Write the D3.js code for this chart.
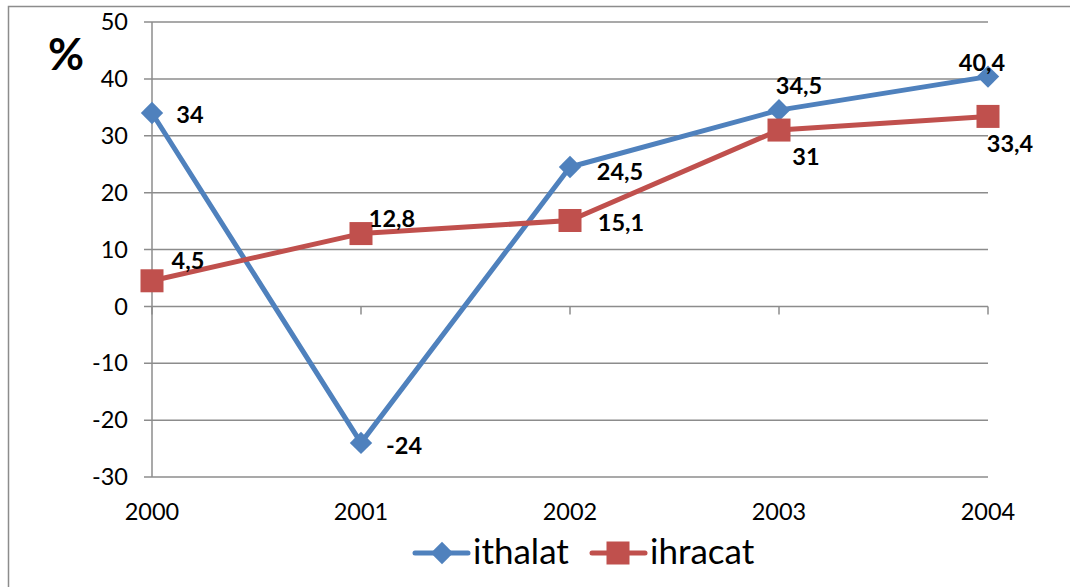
<!DOCTYPE html>
<html>
<head>
<meta charset="utf-8">
<script src="https://cdn.jsdelivr.net/npm/d3@7"></script>
<style>
  body { margin: 0; background: #fff; }
  text { font-family: Lato, "Open Sans", sans-serif; }
</style>
</head>
<body>
<div id="chart"></div>
<script>
// data
const years = ["2000", "2001", "2002", "2003", "2004"];
const ithalat = [34, -24, 24.5, 34.5, 40.4];
const ihracat = [4.5, 12.8, 15.1, 31, 33.4];
const yTicks = [-30, -20, -10, 0, 10, 20, 30, 40, 50];
const seriesNames = ["ithalat", "ihracat"];

// label placement (dx, dy from point to label centre)
const ithalatLabelPos = [[38, 2], [43, 3], [50, 5], [20, -24], [-6, -14]];
const ihracatLabelPos = [[36, -20], [31, -15], [51, 2], [27, 27], [22, 27]];

const width = 1070, height = 587;
const margin = {top: 22, right: 82, bottom: 110, left: 152};

const svg = d3.select("#chart").append("svg")
    .attr("width", width)
    .attr("height", height);

// outer frame
svg.append("rect")
    .attr("x", 8.5).attr("y", 6.5)
    .attr("width", 1100).attr("height", 700)
    .attr("fill", "none")
    .attr("stroke", "#8c8c8c")
    .attr("stroke-width", 1.5);

const x = d3.scalePoint()
    .domain(years)
    .range([margin.left, width - margin.right]);

const y = d3.scaleLinear()
    .domain([-30, 50])
    .range([477, margin.top]);

// gridlines
svg.append("g")
    .selectAll("line")
    .data(yTicks)
    .join("line")
    .attr("x1", margin.left - 8)
    .attr("x2", width - margin.right)
    .attr("y1", d => y(d))
    .attr("y2", d => y(d))
    .attr("stroke", "#8c8c8c")
    .attr("stroke-width", 1.5);

// y axis line
svg.append("line")
    .attr("x1", margin.left).attr("x2", margin.left)
    .attr("y1", y(50)).attr("y2", y(-30))
    .attr("stroke", "#8c8c8c")
    .attr("stroke-width", 1.5);

// y labels
svg.append("g")
    .selectAll("text")
    .data(yTicks)
    .join("text")
    .attr("x", 128)
    .attr("y", d => y(d))
    .attr("dy", "0.35em")
    .attr("text-anchor", "end")
    .attr("font-size", 23.5)
    .text(d => d);

// category ticks on the zero line
svg.append("g")
    .selectAll("line")
    .data(years)
    .join("line")
    .attr("x1", d => x(d)).attr("x2", d => x(d))
    .attr("y1", y(0)).attr("y2", y(0) + 8)
    .attr("stroke", "#8c8c8c")
    .attr("stroke-width", 1.5);

// year labels
svg.append("g")
    .selectAll("text")
    .data(years)
    .join("text")
    .attr("x", d => x(d))
    .attr("y", 512)
    .attr("dy", "0.35em")
    .attr("text-anchor", "middle")
    .attr("font-size", 23.5)
    .text(d => d);

// "%" title
svg.append("text")
    .attr("x", 66).attr("y", 55)
    .attr("dy", "0.35em")
    .attr("text-anchor", "middle")
    .attr("font-size", 44)
    .attr("font-weight", "bold")
    .text("%");

const line = d3.line()
    .x((d, i) => x(years[i]))
    .y(d => y(d));

const blue = "#4f81bd", red = "#c0504d";

svg.append("path")
    .datum(ithalat)
    .attr("d", line)
    .attr("fill", "none")
    .attr("stroke", blue)
    .attr("stroke-width", 5)
    .attr("stroke-linejoin", "round");

svg.append("path")
    .datum(ihracat)
    .attr("d", line)
    .attr("fill", "none")
    .attr("stroke", red)
    .attr("stroke-width", 5)
    .attr("stroke-linejoin", "round");

const diamond = d3.symbol().type(d3.symbolDiamond2).size(320);

svg.append("g")
    .selectAll("path")
    .data(ithalat)
    .join("path")
    .attr("d", diamond)
    .attr("transform", (d, i) => `translate(${x(years[i])},${y(d)})`)
    .attr("fill", blue);

svg.append("g")
    .selectAll("rect")
    .data(ihracat)
    .join("rect")
    .attr("x", (d, i) => x(years[i]) - 11.5)
    .attr("y", d => y(d) - 11.5)
    .attr("width", 23).attr("height", 23)
    .attr("fill", red);

const fmt = v => String(v).replace(".", ",");

function addLabels(values, pos) {
    svg.append("g")
        .selectAll("text")
        .data(values)
        .join("text")
        .attr("x", (d, i) => x(years[i]) + pos[i][0])
        .attr("y", (d, i) => y(d) + pos[i][1])
        .attr("dy", "0.35em")
        .attr("text-anchor", "middle")
        .attr("font-size", 23.5)
        .attr("font-weight", "bold")
        .text(d => fmt(d));
}
addLabels(ithalat, ithalatLabelPos);
addLabels(ihracat, ihracatLabelPos);

// legend
const legend = svg.append("g");
const legendItems = [
    {name: seriesNames[0], color: blue, x0: 415},
    {name: seriesNames[1], color: red, x0: 592}
];
legendItems.forEach((item, i) => {
    const g = legend.append("g");
    g.append("line")
        .attr("x1", item.x0).attr("x2", item.x0 + 53)
        .attr("y1", 553).attr("y2", 553)
        .attr("stroke", item.color)
        .attr("stroke-width", 5)
        .attr("stroke-linecap", "round");
    if (i === 0) {
        g.append("path")
            .attr("d", diamond)
            .attr("transform", `translate(${item.x0 + 27},553)`)
            .attr("fill", item.color);
    } else {
        g.append("rect")
            .attr("x", item.x0 + 26 - 11.5).attr("y", 553 - 11.5)
            .attr("width", 23).attr("height", 23)
            .attr("fill", item.color);
    }
    g.append("text")
        .attr("x", item.x0 + 58)
        .attr("y", 564)
        .attr("font-size", 35)
        .text(item.name);
});
</script>
</body>
</html>
